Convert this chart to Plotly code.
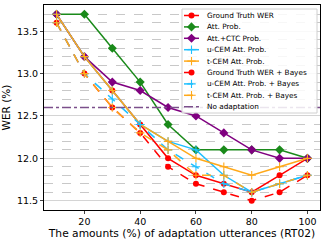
import plotly.graph_objects as go

x = [10, 20, 30, 40, 50, 60, 70, 80, 90, 100]
gt_wer = [13.7, 13.2, 12.8, 12.4, 12.0, 11.8, 11.7, 11.6, 11.8, 12.0]
att_prob = [13.7, 13.7, 13.3, 12.9, 12.4, 12.1, 12.1, 12.1, 12.1, 12.0]
att_ctc_prob = [13.7, 13.2, 12.9, 12.8, 12.6, 12.5, 12.3, 12.1, 12.0, 12.0]
ucem_att = [13.7, 13.2, 12.8, 12.4, 12.2, 12.1, 11.8, 11.6, 11.7, 11.8]
tcem_att = [13.7, 13.2, 12.8, 12.4, 12.2, 12.0, 11.9, 11.8, 11.9, 12.0]
gt_wer_bayes = [13.6, 13.0, 12.6, 12.3, 11.9, 11.7, 11.6, 11.5, 11.6, 11.8]
ucem_bayes = [13.6, 13.0, 12.7, 12.4, 12.1, 11.9, 11.7, 11.6, 11.7, 11.8]
tcem_bayes = [13.6, 13.0, 12.6, 12.3, 12.1, 11.8, 11.8, 11.6, 11.7, 11.8]
no_adapt = 12.6

x_ticks = [20, 40, 60, 80, 100]

RED = "#ff0000"
GREEN = "#1a8a1a"
PURPLE = "#800080"
BLUE = "#1ec0ff"
ORANGE = "#ffa91a"
NOAD = "#7b4f8b"

series = [
    ("Ground Truth WER", gt_wer, RED, "solid", "circle", 6),
    ("Att. Prob.", att_prob, GREEN, "solid", "diamond", 7),
    ("Att.+CTC Prob.", att_ctc_prob, PURPLE, "solid", "diamond", 7),
    ("u-CEM Att. Prob.", ucem_att, BLUE, "solid", "cross-thin", 6),
    ("t-CEM Att. Prob.", tcem_att, ORANGE, "solid", "cross-thin", 6),
    ("Ground Truth WER + Bayes", gt_wer_bayes, RED, "dash", "circle", 6),
    ("u-CEM Att. Prob. + Bayes", ucem_bayes, BLUE, "dash", "cross-thin", 6),
    ("t-CEM Att. Prob. + Bayes", tcem_bayes, ORANGE, "dash", "cross-thin", 6),
]

W, H = 325, 244
ML, MR, MT, MB = 44, 5, 5, 34

fig = go.Figure()

def marker(symbol, size, color):
    mk = dict(symbol=symbol, size=size, color=color)
    if symbol.startswith("cross-thin"):
        mk["line"] = dict(color=color, width=1.1)
    return mk

for name, y, color, dash, symbol, msize in series:
    fig.add_trace(go.Scatter(x=x, y=y, name=name, mode="lines+markers", showlegend=False,
                             line=dict(color=color, width=1.5, dash=dash),
                             marker=marker(symbol, msize, color)))
fig.add_trace(go.Scatter(x=[5.5, 104.5], y=[no_adapt, no_adapt], name="No adaptation",
                         mode="lines", showlegend=False,
                         line=dict(color=NOAD, width=1.5, dash="dashdot")))

# ---- custom compact legend drawn on an overlay axis in pixel units ----
bx0, bx1, by0, by1 = 182, 317, 9, 113
fig.add_trace(go.Scatter(x=[bx0, bx1, bx1, bx0, bx0], y=[by0, by0, by1, by1, by0],
                         xaxis="x2", yaxis="y2", mode="lines", fill="toself",
                         fillcolor="rgba(255,255,255,0.85)",
                         line=dict(color="#d0d0d0", width=1), showlegend=False,
                         hoverinfo="skip"))
entries = [(n, c, d, s, m) for n, _, c, d, s, m in series] + \
          [("No adaptation", NOAD, "dashdot", None, 0)]
row0, step = 15.5, 11.4
for i, (name, color, dash, symbol, msize) in enumerate(entries):
    yy = row0 + i * step
    fig.add_trace(go.Scatter(x=[184, 199], y=[yy, yy], xaxis="x2", yaxis="y2",
                             mode="lines", line=dict(color=color, width=1.5, dash=dash),
                             showlegend=False, hoverinfo="skip"))
    if symbol:
        fig.add_trace(go.Scatter(x=[191.5], y=[yy], xaxis="x2", yaxis="y2",
                                 mode="markers", marker=marker(symbol, msize, color),
                                 showlegend=False, hoverinfo="skip"))
    fig.add_annotation(x=205, y=yy, xref="x2", yref="y2", text=name, showarrow=False,
                       xanchor="left", yanchor="middle", font=dict(size=7.3, color="black"))

fig.update_layout(
    width=W, height=H,
    margin=dict(l=ML, r=MR, t=MT, b=MB),
    paper_bgcolor="white", plot_bgcolor="white",
    font=dict(family="DejaVu Sans", size=9.5, color="black"),
    showlegend=False,
    xaxis2=dict(overlaying="x", range=[ML, W - MR], visible=False, fixedrange=True),
    yaxis2=dict(overlaying="y", range=[H - MB, MT], visible=False, fixedrange=True),
    xaxis=dict(range=[5.5, 104.5], tickmode="array", tickvals=x_ticks,
               showgrid=False, zeroline=False, showline=True, linecolor="black",
               linewidth=1, mirror=True, ticks="outside", ticklen=3,
               title=dict(text="The amounts (%) of adaptation utterances (RT02)",
                          font=dict(size=10.7), standoff=1)),
    yaxis=dict(range=[11.39, 13.81], tick0=11.5, dtick=0.5, tickformat=".1f",
               showgrid=True, gridcolor="#d4d4d4", gridwidth=1.2,
               minor=dict(dtick=0.1, tick0=11.5, showgrid=True, gridcolor="#c8c8c8",
                          griddash="dash", gridwidth=0.8),
               zeroline=False, showline=True, linecolor="black",
               linewidth=1, mirror=True, ticks="outside", ticklen=3,
               title=dict(text="WER (%)", font=dict(size=10.5), standoff=4)),
)

fig.write_html("out.html", config=dict(displayModeBar=False),
               post_script="document.body.style.margin='0';document.body.style.overflow='hidden';")
